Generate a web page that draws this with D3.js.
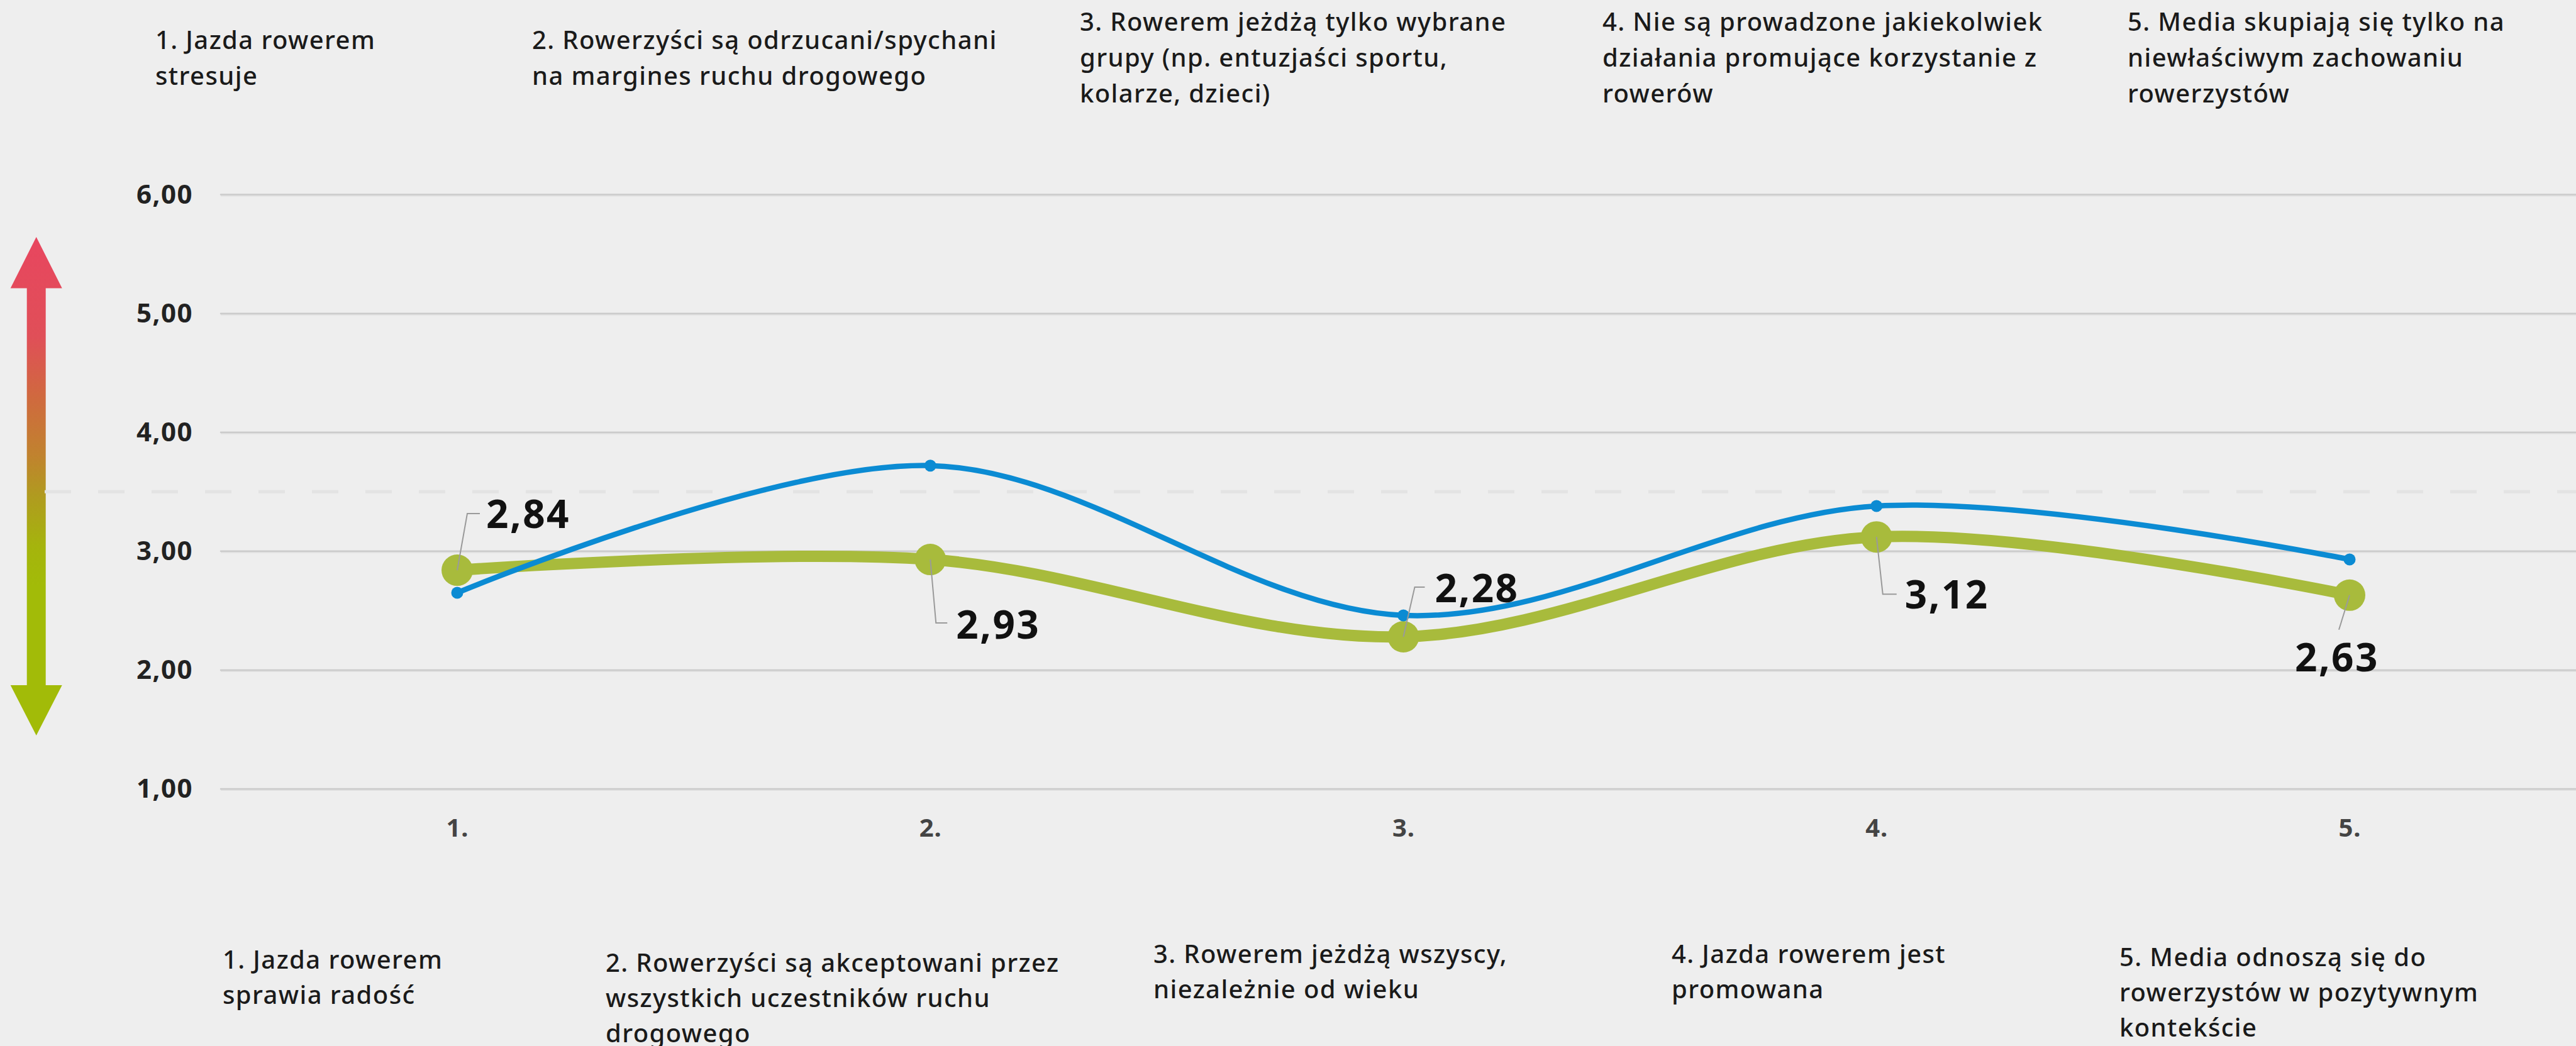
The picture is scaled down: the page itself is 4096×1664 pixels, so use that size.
<!DOCTYPE html>
<html>
<head>
<meta charset="utf-8">
<script src="https://cdn.jsdelivr.net/npm/d3@7"></script>
<style>
  html, body { margin: 0; padding: 0; background: #eeeeee; }
  svg { display: block; }
  text { font-family: 'Noto Sans', sans-serif; }
</style>
</head>
<body>
<div id="chart"></div>
<script>
// data
var categories = ['1.', '2.', '3.', '4.', '5.'];
var greenValues = [2.84, 2.93, 2.28, 3.12, 2.63];
var blueValues = [2.65, 3.72, 2.46, 3.38, 2.93];
var yTicks = [1, 2, 3, 4, 5, 6];
var midValue = 3.5;

var topTexts = [
	['1. Jazda rowerem', 'stresuje'],
	['2. Rowerzyści są odrzucani/spychani', 'na margines ruchu drogowego'],
	['3. Rowerem jeżdżą tylko wybrane', 'grupy (np. entuzjaści sportu,', 'kolarze, dzieci)'],
	['4. Nie są prowadzone jakiekolwiek', 'działania promujące korzystanie z', 'rowerów'],
	['5. Media skupiają się tylko na', 'niewłaściwym zachowaniu', 'rowerzystów']
];
var bottomTexts = [
	['1. Jazda rowerem', 'sprawia radość'],
	['2. Rowerzyści są akceptowani przez', 'wszystkich uczestników ruchu', 'drogowego'],
	['3. Rowerem jeżdżą wszyscy,', 'niezależnie od wieku'],
	['4. Jazda rowerem jest', 'promowana'],
	['5. Media odnoszą się do', 'rowerzystów w pozytywnym', 'kontekście']
];

// layout
var W = 4096, H = 1664;
var topPos = [[247, 78], [846, 78], [1717, 49], [2548, 49], [3383, 49]];
var bottomPos = [[354, 1541], [963, 1546], [1834, 1532], [2658, 1532], [3370, 1537]];
// leader elbow, tail end, text x, text y, anchor
var labelPos = [
	{ ex: 16, ey: -90, tx: 36, lx: 46, ly: -89, anchor: 'start' },
	{ ex: 9, ey: 101, tx: 27, lx: 41, ly: 104, anchor: 'start' },
	{ ex: 18, ey: -79, tx: 34, lx: 50, ly: -77, anchor: 'start' },
	{ ex: 10, ey: 91, tx: 32, lx: 45, ly: 92, anchor: 'start' },
	{ ex: -17, ey: 55, tx: -17, lx: -20, ly: 99, anchor: 'middle' }
];

var svg = d3.select('#chart').append('svg').attr('width', W).attr('height', H);

var xScale = d3.scalePoint().domain(categories).range([727, 3736]);
var yScale = d3.scaleLinear().domain([1, 6]).range([1255, 309.6]);

var fmt = function(v) { return d3.format('.2f')(v).replace('.', ','); };

// gradient arrow
var defs = svg.append('defs');
var grad = defs.append('linearGradient')
	.attr('id', 'arrowGrad')
	.attr('gradientUnits', 'userSpaceOnUse')
	.attr('x1', 0).attr('x2', 0).attr('y1', 377).attr('y2', 1170);
[[0, '#e8465f'], [0.2, '#e04f58'], [0.32, '#d0693f'], [0.44, '#c0832e'], [0.52, '#b09b1f'], [0.62, '#a5b40d'], [0.7, '#a2bb08'], [1, '#a2bb08']]
	.forEach(function(s) {
		grad.append('stop').attr('offset', s[0]).attr('stop-color', s[1]);
	});

var ax = 57.7, shaft = 15, head = 41;
var arrowPts = [
	[ax, 377], [ax + head, 458.6], [ax + shaft, 458.6], [ax + shaft, 1090], [ax + head, 1090],
	[ax, 1170], [ax - head, 1090], [ax - shaft, 1090], [ax - shaft, 458.6], [ax - head, 458.6]
];
svg.append('path')
	.attr('d', d3.line()(arrowPts) + 'Z')
	.attr('fill', 'url(#arrowGrad)');

// gridlines
var grid = svg.append('g');
grid.selectAll('line')
	.data(yTicks)
	.enter().append('line')
	.attr('x1', 351).attr('x2', W)
	.attr('y1', function(d) { return yScale(d) + 1.5; })
	.attr('y2', function(d) { return yScale(d) + 1.5; })
	.attr('stroke', '#e0e0e0')
	.attr('stroke-width', 3);
grid.selectAll('line.main')
	.data(yTicks)
	.enter().append('line')
	.attr('class', 'main')
	.attr('x1', 351).attr('x2', W)
	.attr('y1', function(d) { return yScale(d); })
	.attr('y2', function(d) { return yScale(d); })
	.attr('stroke', '#cbcbcb')
	.attr('stroke-width', 2.5)
	.attr('stroke-linecap', 'round');

svg.append('line')
	.attr('x1', 71).attr('x2', W)
	.attr('y1', yScale(midValue)).attr('y2', yScale(midValue))
	.attr('stroke', '#e3e3e3')
	.attr('stroke-width', 5)
	.attr('stroke-dasharray', '42 43');

// y axis labels
var yAxis = d3.axisLeft(yScale).tickValues(yTicks).tickSize(0).tickPadding(0).tickFormat(fmt);
var yAxisG = svg.append('g')
	.attr('transform', 'translate(307,0)')
	.call(yAxis);
yAxisG.select('.domain').remove();
yAxisG.selectAll('text')
	.attr('font-family', "'Noto Sans', sans-serif")
	.attr('font-size', 42)
	.attr('letter-spacing', 1.5)
	.attr('font-weight', 700)
	.attr('fill', '#222222');

// x axis labels
var xAxis = d3.axisBottom(xScale).tickSize(0).tickPadding(0);
var xAxisG = svg.append('g')
	.attr('transform', 'translate(0,1317)')
	.call(xAxis);
xAxisG.select('.domain').remove();
xAxisG.selectAll('text')
	.attr('font-family', "'Noto Sans', sans-serif")
	.attr('font-size', 40)
	.attr('letter-spacing', 1)
	.attr('font-weight', 700)
	.attr('fill', '#444444')
	.attr('dy', '0.35em');

// lines
var line = d3.line()
	.x(function(d, i) { return xScale(categories[i]); })
	.y(function(d) { return yScale(d); })
	.curve(d3.curveCardinal.tension(0));

svg.append('path')
	.attr('d', line(greenValues))
	.attr('fill', 'none')
	.attr('stroke', '#a8bb3c')
	.attr('stroke-width', 18);

svg.selectAll('circle.green')
	.data(greenValues)
	.enter().append('circle')
	.attr('class', 'green')
	.attr('cx', function(d, i) { return xScale(categories[i]); })
	.attr('cy', function(d) { return yScale(d); })
	.attr('r', 25)
	.attr('fill', '#a8bb3c');

svg.append('path')
	.attr('d', line(blueValues))
	.attr('fill', 'none')
	.attr('stroke', '#0b8bd3')
	.attr('stroke-width', 8.5);

svg.selectAll('circle.blue')
	.data(blueValues)
	.enter().append('circle')
	.attr('class', 'blue')
	.attr('cx', function(d, i) { return xScale(categories[i]); })
	.attr('cy', function(d) { return yScale(d); })
	.attr('r', 9.5)
	.attr('fill', '#0b8bd3');

// value labels with leaders
var labels = svg.append('g');
greenValues.forEach(function(v, i) {
	var px = xScale(categories[i]), py = yScale(v), p = labelPos[i];
	labels.append('path')
		.attr('d', d3.line()([[px, py], [px + p.ex, py + p.ey], [px + p.tx, py + p.ey]]))
		.attr('fill', 'none')
		.attr('stroke', '#9a9a9a')
		.attr('stroke-width', 2);
	labels.append('text')
		.attr('x', px + p.lx)
		.attr('y', py + p.ly)
		.attr('dy', '0.36em')
		.attr('text-anchor', p.anchor)
		.attr('font-size', 62)
		.attr('letter-spacing', 2.5)
		.attr('font-weight', 700)
		.attr('fill', '#111111')
		.text(fmt(v));
});

// annotations
function drawBlock(lines, pos, lh) {
	var t = svg.append('text')
		.attr('x', pos[0]).attr('y', pos[1])
		.attr('font-size', 40)
		.attr('letter-spacing', 1.4)
		.attr('font-weight', 500)
		.attr('fill', '#1a1a1a');
	lines.forEach(function(s, k) {
		t.append('tspan').attr('x', pos[0]).attr('y', pos[1] + k * lh).text(s);
	});
}
topTexts.forEach(function(lines, i) { drawBlock(lines, topPos[i], 57); });
bottomTexts.forEach(function(lines, i) { drawBlock(lines, bottomPos[i], 56); });
</script>
</body>
</html>
